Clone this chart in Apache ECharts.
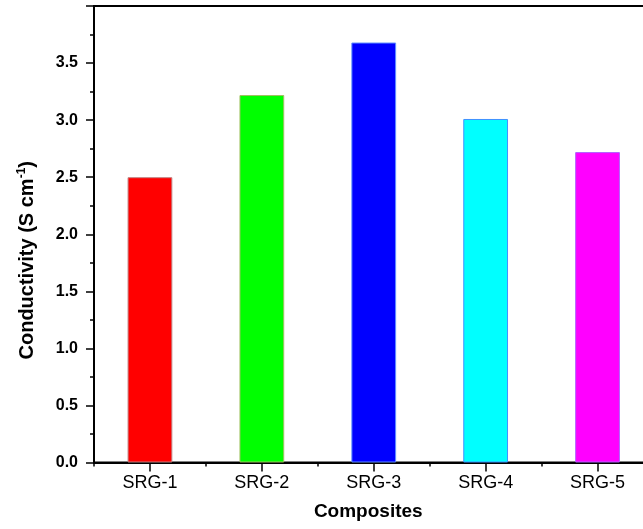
<!DOCTYPE html>
<html>
<head>
<meta charset="utf-8">
<script src="https://cdn.jsdelivr.net/npm/echarts@6/dist/echarts.min.js"></script>
<style>
html,body{margin:0;padding:0;background:#fff;}
#chart{width:643px;height:529px;}
</style>
</head>
<body>
<div id="chart"></div>
<script>
var categories = ['SRG-1', 'SRG-2', 'SRG-3', 'SRG-4', 'SRG-5'];
var conductivity = [2.50, 3.22, 3.68, 3.01, 2.72];
var barColors = ['#ff0000', '#00ff00', '#0000ff', '#00ffff', '#ff00ff'];
var barBorders = ['#c08080', '#a0c060', '#6090ff', '#4090ff', '#b060ff'];
var yTicks = [0, 0.5, 1.0, 1.5, 2.0, 2.5, 3.0, 3.5];

var FONT = '"Liberation Sans", Arial, sans-serif';
var chart = echarts.init(document.getElementById('chart'), null, {renderer: 'canvas'});
chart.setOption({
  animation: false,
  backgroundColor: '#ffffff',
  grid: {
    left: 94, top: 6, bottom: 66.5, right: -10.5,
    outerBoundsMode: 'none',
    containLabel: false,
    show: true, borderColor: '#000', borderWidth: 2, backgroundColor: 'transparent'
  },
  xAxis: [{
    type: 'category',
    data: categories,
    position: 'bottom',
    name: 'Composites',
    nameLocation: 'middle',
    nameGap: 40,
    nameTextStyle: {fontFamily: FONT, fontWeight: 'bold', fontSize: 19, color: '#000', padding: [0, 11, 0, 0]},
    axisLine: {show: true, lineStyle: {color: '#000', width: 2}},
    axisTick: {show: true, alignWithLabel: true, length: 9, lineStyle: {color: '#000', width: 1.5}},
    axisLabel: {fontFamily: FONT, fontSize: 18, color: '#000', margin: 12},
    splitLine: {show: false}
  }, {
    type: 'category',
    data: categories,
    position: 'bottom',
    axisLine: {show: false},
    axisTick: {show: true, alignWithLabel: false, length: 4, lineStyle: {color: '#000', width: 1.5}},
    axisLabel: {show: false},
    splitLine: {show: false}
  }],
  yAxis: {
    type: 'value',
    min: 0, max: 4, interval: 0.5,
    name: '{a|Conductivity (S cm}{s|-1}{a|)}',
    nameLocation: 'middle',
    nameRotate: 90,
    nameGap: 56,
    nameTextStyle: {
      padding: [0, 52, 0, 0],
      rich: {
        a: {fontFamily: FONT, fontWeight: 'bold', fontSize: 20, color: '#000', lineHeight: 22},
        s: {fontFamily: FONT, fontWeight: 'bold', fontSize: 12, color: '#000', lineHeight: 22, verticalAlign: 'top', padding: [0, 0, 10, 0]}
      }
    },
    axisLine: {show: true, lineStyle: {color: '#000', width: 2}},
    axisTick: {show: true, length: 8, lineStyle: {color: '#000', width: 1.5}},
    minorTick: {show: true, splitNumber: 2, length: 4, lineStyle: {color: '#000', width: 1.5}},
    axisLabel: {
      fontFamily: FONT, fontWeight: 'bold', fontSize: 16, color: '#000', margin: 16,
      showMaxLabel: false,
      formatter: function (v) { return yTicks.indexOf(v) >= 0 ? v.toFixed(1) : ''; }
    },
    splitLine: {show: false},
    minorSplitLine: {show: false}
  },
  series: [{
    type: 'bar',
    xAxisIndex: 0,
    barWidth: '40%',
    data: conductivity.map(function (v, i) {
      return {value: v, itemStyle: {color: barColors[i], borderColor: barBorders[i], borderWidth: 1}};
    })
  }]
});
</script>
</body>
</html>
